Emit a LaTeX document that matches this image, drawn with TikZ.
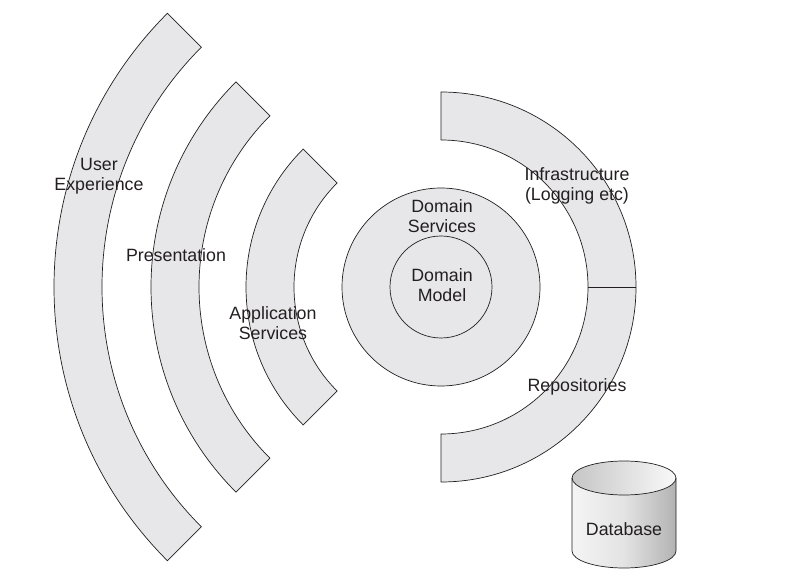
\documentclass[tikz,border=0pt]{standalone}
\usepackage{fontspec}
\setmainfont{Liberation Sans}
\definecolor{bandfill}{HTML}{E7E7E9}
\definecolor{linecol}{HTML}{231F20}
\definecolor{txt}{HTML}{231F20}
\begin{document}
\begin{tikzpicture}[x=1pt,y=1pt,
  band/.style={fill=bandfill,draw=linecol,line width=0.7pt,line join=miter},
  lbl/.style={text=txt,font=\fontsize{17.8pt}{20.5pt}\selectfont,align=center,inner sep=0pt}]
\useasboundingbox (0,0) rectangle (789,576);
\coordinate (C) at (441,289);
\begin{scope}[shift={(C)}]
  % left bands
  \path[band] (135:387) arc[start angle=135,end angle=225,radius=387] -- (225:339) arc[start angle=225,end angle=135,radius=339] -- cycle;
  \path[band] (135:290) arc[start angle=135,end angle=225,radius=290] -- (225:242) arc[start angle=225,end angle=135,radius=242] -- cycle;
  \path[band] (135:195) arc[start angle=135,end angle=225,radius=195] -- (225:147) arc[start angle=225,end angle=135,radius=147] -- cycle;
  % right band
  \path[band] (90:195) arc[start angle=90,end angle=-90,radius=195] -- (-90:147) arc[start angle=-90,end angle=90,radius=147] -- cycle;
  \coordinate (divA) at (0:147);
  \coordinate (divB) at (0:195);
  \draw[draw=linecol,line width=0.7pt] (divA) -- (divB);
  % circles
  \node[band,circle,minimum size=198pt,inner sep=0pt] (ds) at (0,0) {};
  \node[band,circle,minimum size=102pt,inner sep=0pt] (dm) at (0,0) {};
\end{scope}
% database
\begin{scope}
  \shade[left color=gray!8,right color=gray!60,middle color=gray!22]
    (572,98) -- (572,25) arc[start angle=180,end angle=360,x radius=52,y radius=17] -- (676,98) -- cycle;
  \shade[left color=gray!45,right color=gray!5] (624,98) ellipse[x radius=52,y radius=17];
  \draw[draw=linecol,line width=0.7pt] (572,98) -- (572,25) arc[start angle=180,end angle=360,x radius=52,y radius=17] -- (676,98);
  \draw[draw=linecol,line width=0.7pt] (624,98) ellipse[x radius=52,y radius=17];
  \node[lbl] (db) at (624,47) {Database};
\end{scope}
% labels
\node[lbl] (ux) at (99,400) {User\\Experience};
\node[lbl] (pres) at (176,321) {Presentation};
\node[lbl] (app) at (273,253) {Application\\Services};
\node[lbl] (dsl) at (442,360) {Domain\\Services};
\node[lbl] (dml) at (442,291) {Domain\\Model};
\node[lbl] (infra) at (577,390) {Infrastructure\\(Logging etc)};
\node[lbl] (repo) at (577,189) {Repositories};
\end{tikzpicture}
\end{document}
